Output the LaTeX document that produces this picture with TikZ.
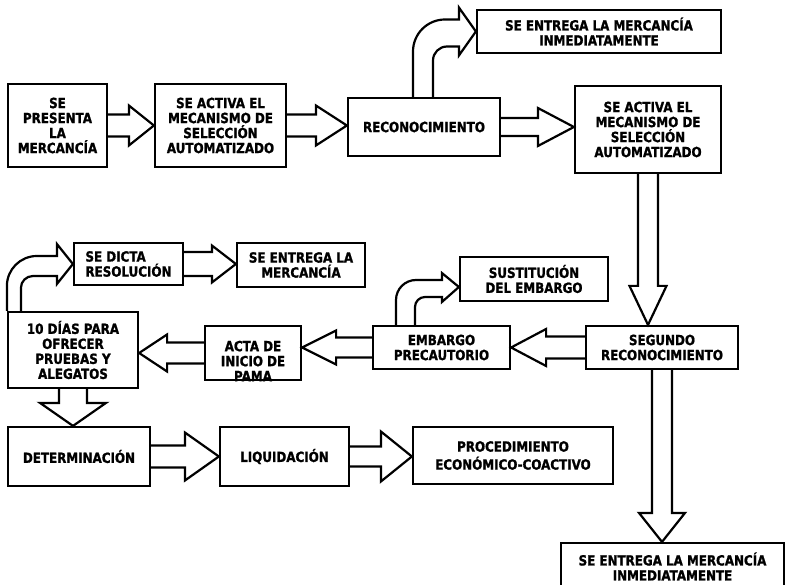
\documentclass[tikz,border=0pt]{standalone}
\usepackage{fontspec}
\newfontfamily\lblfont[FakeStretch=0.85, BoldFeatures={FakeBold=1.2}]{DejaVu Sans}
\usetikzlibrary{calc}

\tikzset{
  box/.style={draw, line width=2.2pt, rectangle, inner sep=0pt, align=center,
    font=\lblfont\bfseries\fontsize{14}{15}\selectfont},
  blk/.style={draw, line width=2.2pt, line join=miter},
}

% box from left/top/right/bottom (y grows downwards)
\newcommand\boxat[7][]{%
  \node[box, minimum width={#5-#3}, minimum height={#6-#4}, #1] (#2)
    at ({(#3+#5)/2},{(#4+#6)/2}) {#7};}

% block arrows: #1 source, #2 target, #3 head length, #4 half shaft, #5 half head
\newcommand\arrR[5]{\draw[blk] let \p1=(#1.east), \p2=(#2.west) in
  (\x1,\y1+#4) -- (\x2-#3,\y1+#4) -- (\x2-#3,\y1+#5) -- (\x2,\y1)
  -- (\x2-#3,\y1-#5) -- (\x2-#3,\y1-#4) -- (\x1,\y1-#4);}
\newcommand\arrL[5]{\draw[blk] let \p1=(#1.west), \p2=(#2.east) in
  (\x1,\y1+#4) -- (\x2+#3,\y1+#4) -- (\x2+#3,\y1+#5) -- (\x2,\y1)
  -- (\x2+#3,\y1-#5) -- (\x2+#3,\y1-#4) -- (\x1,\y1-#4);}
\newcommand\arrD[5]{\draw[blk] let \p1=(#1.south), \p2=(#2.north) in
  (\x1-#4,\y1) -- (\x1-#4,\y2+#3) -- (\x1-#5,\y2+#3) -- (\x1,\y2)
  -- (\x1+#5,\y2+#3) -- (\x1+#4,\y2+#3) -- (\x1+#4,\y1);}

\begin{document}
\begin{tikzpicture}[x=1pt,y=-1pt]
\clip (0,0) rectangle (787,585);
\fill[white] (0,0) rectangle (787,585);

% boxes
\boxat{b1}{8}{84}{107}{167}{SE\\PRESENTA\\LA\\MERCANCÍA}
\boxat{b2}{155}{84}{286}{167}{SE ACTIVA EL\\MECANISMO DE\\SELECCIÓN\\AUTOMATIZADO}
\boxat{b3}{348}{98}{500}{156}{RECONOCIMIENTO}
\boxat{b4}{575}{86}{721}{173}{SE ACTIVA EL\\MECANISMO DE\\SELECCIÓN\\AUTOMATIZADO}
\boxat{b5}{477}{10}{721}{53}{SE ENTREGA LA MERCANCÍA\\INMEDIATAMENTE}
\boxat{b6}{586}{326}{738}{369}{SEGUNDO\\RECONOCIMIENTO}
\boxat{b7}{373}{326}{510}{369}{EMBARGO\\PRECAUTORIO}
\boxat{b8}{460}{257}{608}{301}{SUSTITUCIÓN\\DEL EMBARGO}
\boxat{b9}{205}{326}{301}{380}{}
\begin{scope}
  \clip (b9.south west) rectangle (b9.north east);
  \node[box, draw=none] (b9t) at (253,361) {ACTA DE\\INICIO DE\\PAMA};
\end{scope}
\boxat{b10}{8}{312}{138}{388}{10 DÍAS PARA\\OFRECER\\PRUEBAS Y\\ALEGATOS}
\boxat[align=left]{b11}{74}{243}{183}{285}{SE DICTA\\RESOLUCIÓN}
\boxat{b12}{237}{243}{365}{287}{SE ENTREGA LA\\MERCANCÍA}
\boxat{b13}{8}{427}{150}{486}{DETERMINACIÓN}
\boxat{b14}{220}{427}{349}{486}{LIQUIDACIÓN}
\boxat[font=\lblfont\bfseries\fontsize{14}{18}\selectfont]{b15}{413}{427}{613}{484}{PROCEDIMIENTO\\ECONÓMICO-COACTIVO}
\boxat{b16}{561}{543}{784}{590}{SE ENTREGA LA MERCANCÍA\\INMEDIATAMENTE}

% straight block arrows
\arrR{b1}{b2}{25pt}{11pt}{20pt}
\arrR{b2}{b3}{31pt}{11pt}{20pt}
\arrR{b3}{b4}{36pt}{9pt}{19pt}
\arrD{b4}{b6}{39pt}{10pt}{18.5pt}
\arrL{b6}{b7}{35pt}{11pt}{18.5pt}
\arrL{b7}{b9}{34pt}{10pt}{17pt}
\arrL{b9}{b10}{28pt}{10.5pt}{18.5pt}
\arrR{b11}{b12}{24pt}{12pt}{18.5pt}
\arrD{b10}{b13}{23pt}{14pt}{33pt}
\arrR{b13}{b14}{34pt}{11pt}{24pt}
\arrR{b14}{b15}{31pt}{10pt}{25pt}
\arrD{b6}{b16}{29pt}{10pt}{23pt}

% bent block arrows
\draw[blk] let \p1=(b3.north), \p2=(b5.west) in
  (\x1-11pt,\y1) -- (\x1-11pt,\y2+12pt-32pt) arc[start angle=180,end angle=90,radius=32pt]
  -- (\x2-17pt,\y2+12pt) -- (\x2-17pt,\y2+24pt) -- (\x2,\y2)
  -- (\x2-17pt,\y2-24pt) -- (\x2-17pt,\y2-15pt)
  -- (\x1+23pt,\y2-15pt) arc[start angle=90,end angle=180,radius=14pt] -- (\x1+9pt,\y1);

\coordinate (t8) at ($(b8.west)+(0,8)$);
\draw[blk] let \p1=(b7.north), \p2=(t8) in
  (\x1-45.5pt,\y1) -- (\x1-45.5pt,\y2+7pt-20pt) arc[start angle=180,end angle=90,radius=20pt]
  -- (\x2-17pt,\y2+7pt) -- (\x2-17pt,\y2+14pt) -- (\x2,\y2)
  -- (\x2-17pt,\y2-15pt) -- (\x2-17pt,\y2-10pt)
  -- (\x1-16.5pt,\y2-10pt) arc[start angle=90,end angle=180,radius=10pt] -- (\x1-26.5pt,\y1);

\draw[blk] let \p1=(b10.north west), \p2=(b11.west) in
  (\x1,\y1) -- (\x1,\y2+8pt-30pt) arc[start angle=180,end angle=90,radius=30pt]
  -- (\x2-16pt,\y2+8pt) -- (\x2-16pt,\y2+20pt) -- (\x2,\y2)
  -- (\x2-16pt,\y2-20pt) -- (\x2-16pt,\y2-12pt)
  -- (\x1+26pt,\y2-12pt) arc[start angle=90,end angle=180,radius=12pt] -- (\x1+14pt,\y1);
\end{tikzpicture}
\end{document}
